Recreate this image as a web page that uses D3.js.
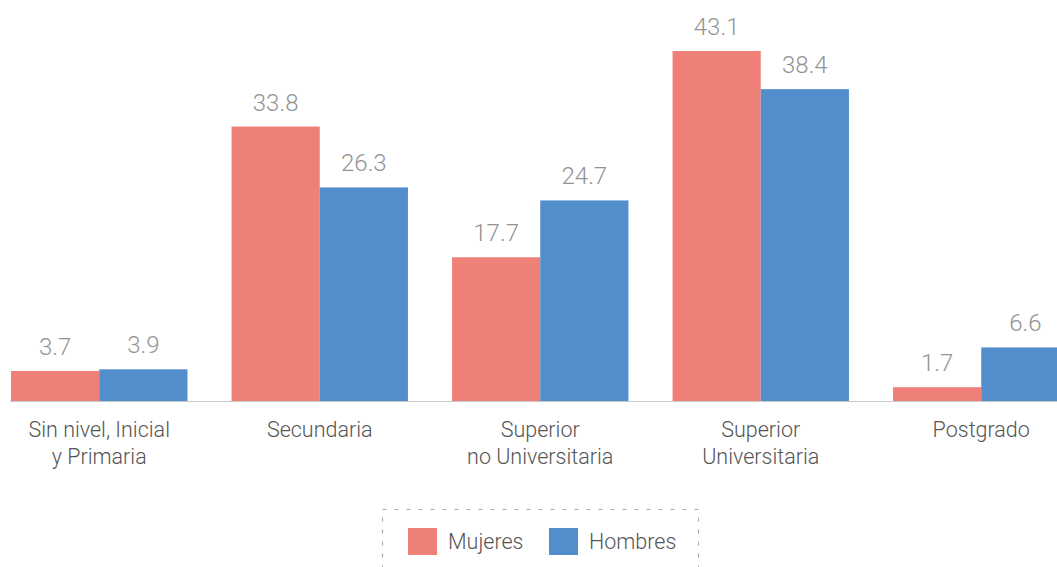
<!DOCTYPE html>
<html>
<head>
<meta charset="utf-8">
<script src="https://cdn.jsdelivr.net/npm/d3@7"></script>
<style>
  html, body { margin: 0; padding: 0; background: #fff; overflow: hidden; }
  svg { display: block; }
</style>
</head>
<body>
<svg id="chart" width="1057" height="567"></svg>
<script>
// Education level categories (two-line labels)
const categories = [
  ["Sin nivel, Inicial", "y Primaria"],
  ["Secundaria"],
  ["Superior", "no Universitaria"],
  ["Superior", "Universitaria"],
  ["Postgrado"]
];
const seriesNames = ["Mujeres", "Hombres"];
const mujeres = [3.7, 33.8, 17.7, 43.1, 1.7];
const hombres = [3.9, 26.3, 24.7, 38.4, 6.6];
const colors = ["#EF8078", "#528DCC"];

const W = 1057, H = 567;
const baseY = 401;
const svg = d3.select("#chart");
const fontFamily = "Roboto, 'Liberation Sans', sans-serif";

const catKeys = categories.map(c => c.join(" "));
const rows = catKeys.map((k, i) => ({ key: k, lines: categories[i], values: [mujeres[i], hombres[i]] }));

const x0 = d3.scaleBand().domain(catKeys).range([-11, 1091.5]).paddingInner(0.2).paddingOuter(0.1);
const x1 = d3.scaleBand().domain(seriesNames).range([0, x0.bandwidth()]);
const y = d3.scaleLinear().domain([0, 43.1]).range([baseY, 51]);

// Baseline
svg.append("line")
  .attr("x1", 10).attr("x2", W)
  .attr("y1", baseY + 0.5).attr("y2", baseY + 0.5)
  .attr("stroke", "#c8c8c8").attr("stroke-width", 1);

const groups = svg.selectAll("g.cat").data(rows).join("g")
  .attr("class", "cat")
  .attr("transform", d => `translate(${x0(d.key)},0)`);

const bars = groups.selectAll("g.bar")
  .data(d => d.values.map((v, j) => ({ name: seriesNames[j], v, j })))
  .join("g").attr("class", "bar");

bars.append("rect")
  .attr("x", d => x1(d.name))
  .attr("y", d => y(d.v))
  .attr("width", x1.bandwidth())
  .attr("height", d => baseY - y(d.v))
  .attr("fill", d => colors[d.j]);

bars.append("text")
  .attr("x", d => x1(d.name) + x1.bandwidth() / 2)
  .attr("y", d => y(d.v) - 16)
  .attr("text-anchor", "middle")
  .attr("font-family", fontFamily)
  .attr("font-weight", 300)
  .attr("font-size", 24)
  .attr("fill", "#939393")
  .text(d => d.v.toFixed(1));

// Category labels
groups.append("text")
  .attr("text-anchor", "middle")
  .attr("font-family", fontFamily)
  .attr("font-weight", 300)
  .attr("font-size", 21.5)
  .attr("fill", "#555")
  .selectAll("tspan")
  .data(d => d.lines)
  .join("tspan")
  .attr("x", x0.bandwidth() / 2)
  .attr("y", (d, i) => 437 + i * 27)
  .text(d => d);

// Legend
const legend = svg.append("g");
legend.append("rect")
  .attr("x", 382.5).attr("y", 509.5)
  .attr("width", 316).attr("height", 80)
  .attr("fill", "none")
  .attr("stroke", "#aaa")
  .attr("stroke-width", 1.2)
  .attr("stroke-dasharray", "4,8");

const legendItems = [
  { name: seriesNames[0], color: colors[0], sx: 408, tx: 448 },
  { name: seriesNames[1], color: colors[1], sx: 549, tx: 589 }
];
legendItems.forEach(it => {
  legend.append("rect")
    .attr("x", it.sx).attr("y", 528)
    .attr("width", 29).attr("height", 27)
    .attr("fill", it.color);
  legend.append("text")
    .attr("x", it.tx).attr("y", 549)
    .attr("font-family", fontFamily)
    .attr("font-weight", 300)
    .attr("font-size", 21.5)
    .attr("fill", "#555")
    .text(it.name);
});
</script>
</body>
</html>
